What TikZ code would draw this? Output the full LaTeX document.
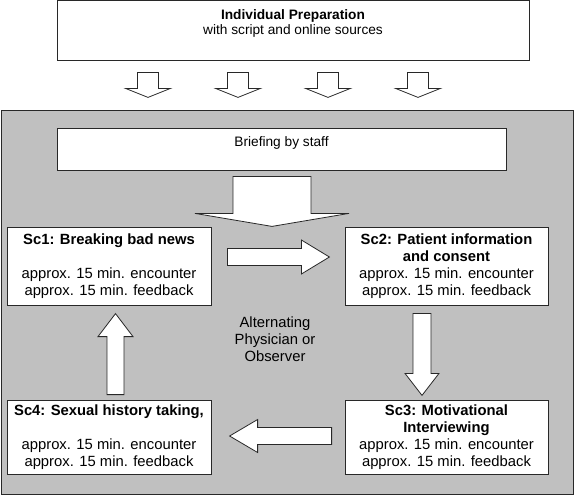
\documentclass[tikz,border=0pt]{standalone}
\usepackage{fontspec}
\setmainfont{Liberation Sans}
\usetikzlibrary{calc}

\definecolor{stagegray}{RGB}{192,192,192}
\definecolor{edgegray}{RGB}{40,40,40}

% block arrow: start, angle, length, shaft half width, head half width, head length
\newcommand{\fatarrow}[6]{%
  \draw[fatarrowstyle, shift={(#1)}, rotate=#2]
    (0,-#4) -- (#3-#6,-#4) -- (#3-#6,-#5) -- (#3,0) -- (#3-#6,#5) -- (#3-#6,#4) -- (0,#4) -- cycle;}

\tikzset{
  box/.style={draw=edgegray, fill=white, line width=0.8pt, align=center, inner sep=0pt},
  bigfont/.style={font=\fontsize{14.8}{17}\selectfont},
  smallfont/.style={font=\fontsize{13.7}{15}\selectfont},
  fatarrowstyle/.style={draw=edgegray, fill=white, line width=0.8pt, line join=miter}
}

\begin{document}
\begin{tikzpicture}[x=1pt, y=-1pt]
    \useasboundingbox (0,0) rectangle (575,495);

    % preparation
    \node[box, smallfont, minimum width=472pt, minimum height=60pt] (prep) at (293,30)
        {\textbf{Individual Preparation}\\with script and online sources\\\mbox{}};

    % seminar day
    \node[draw=edgegray, fill=stagegray, line width=0.8pt, minimum width=572pt, minimum height=384pt,
        inner sep=0pt] (stage) at (287,302) {};
    \node[box, smallfont, minimum width=449pt, minimum height=42pt] (brief) at (281.5,149)
        {Briefing by staff\\\mbox{}};

    \node[box, bigfont, minimum width=204pt, minimum height=78pt] (sc1) at (109,266)
        {\textbf{Sc1: Breaking bad news}\\[17pt]approx. 15 min. encounter\\approx. 15 min. feedback};
    \node[box, bigfont, minimum width=203pt, minimum height=78pt] (sc2) at (446.5,266)
        {\textbf{Sc2: Patient information}\\\textbf{and consent}\\approx. 15 min. encounter\\approx. 15 min. feedback};
    \node[box, bigfont, minimum width=203pt, minimum height=74pt] (sc3) at (446.5,437)
        {\textbf{Sc3: Motivational}\\\textbf{Interviewing}\\approx. 15 min. encounter\\approx. 15 min. feedback};
    \node[box, bigfont, minimum width=204pt, minimum height=74pt] (sc4) at (109,437)
        {\textbf{Sc4: Sexual history taking,}\\[17pt]approx. 15 min. encounter\\approx. 15 min. feedback};

    \node[bigfont, align=center, inner sep=0pt] (alt) at (275,339)
        {Alternating\\Physician or\\Observer};

    % arrows
    \foreach \dx in {-145,-55,35,125} {
        \fatarrow{$(prep.south)+(\dx,12)$}{-90}{25}{10.5}{22.5}{9}
    }
    \fatarrow{$(brief.south)+(-9.5,6)$}{-90}{50}{39}{77}{13}
    \fatarrow{$(sc1.east)+(16,-9)$}{0}{102}{8.5}{17}{28}
    \fatarrow{$(sc2.south)+(-24.5,8)$}{-90}{82}{9}{17}{22}
    \fatarrow{$(sc3.west)+(-13,-1)$}{180}{102}{8.5}{16.5}{28}
    \fatarrow{$(sc4.north)+(6.5,-5)$}{90}{81}{8.5}{17.5}{23}
\end{tikzpicture}
\end{document}
